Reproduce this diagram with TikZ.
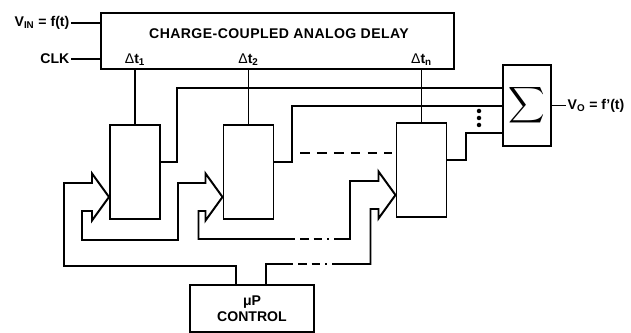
\documentclass[tikz,border=0pt]{standalone}
\usepackage{fontspec}
\setmainfont{Liberation Sans}
\usepackage{graphicx}
\usetikzlibrary{positioning,calc}

\begin{document}
\begin{tikzpicture}[
    x=0.025cm, y=-0.025cm,
    wire/.style={line width=1.4pt, line join=miter},
    block/.style={draw, line width=1.4pt, inner sep=0pt},
    tapbox/.style={block, minimum width=1.25cm, minimum height=2.35cm},
    lbl/.style={font=\fontsize{10}{11}\selectfont\bfseries, inner sep=1pt},
    gapline/.style={wire, dash pattern=on 6pt off 3.5pt on 6pt off 3.5pt on 6pt off 3.5pt on 1.5pt off 3.5pt},
    skipline/.style={wire, dash pattern=on 7pt off 5pt}
  ]
  \useasboundingbox (0,0) rectangle (631,333);

  % Delay line with inputs
  \node[block, minimum width=8.825cm, minimum height=1.4cm] (delay) at (277.5,41) {};
  \node[lbl] (title) at (279,34) {\addfontfeature{LetterSpace=3}CHARGE-COUPLED ANALOG DELAY};
  \node[lbl, anchor=east] (vin) at (71,23) {V\textsubscript{IN} = f(t)};
  \node[lbl, anchor=east] (clk) at (71,59) {CLK};
  \draw[wire] (vin.east) -- (vin.east -| delay.west);
  \draw[wire] (clk.east) -- (clk.east -| delay.west);

  % Tap boxes
  \node[tapbox] (b1) at (135,172) {};
  \node[tapbox] (b2) at (248.5,172) {};
  \node[tapbox] (bn) at (421.5,170) {};

  % Taps and their labels
  \node[lbl, above=2pt] (d1) at (b1.north |- delay.south) {{\mdseries Δ}t\textsubscript{1}};
  \node[lbl, above=2pt] (d2) at (b2.north |- delay.south) {{\mdseries Δ}t\textsubscript{2}};
  \node[lbl, above=2pt] (dn) at (bn.north |- delay.south) {{\mdseries Δ}t\textsubscript{n}};
  \draw[wire] (b1.north) -- (b1.north |- delay.south);
  \draw[wire] (b2.north) -- (b2.north |- delay.south);
  \draw[wire] (bn.north) -- (bn.north |- delay.south);

  % Summer and output
  \node[block, minimum width=1.2cm, minimum height=2.025cm] (sum) at (527,105.5) {\scalebox{1.8}{$\displaystyle\sum$}};
  \node[lbl, right=0.35cm of sum] (vo) {V\textsubscript{O} = f'(t)};
  \draw[wire] (sum) -- (vo);

  % Box outputs into the summer
  \draw[wire] ($(b1.east)+(0,-10)$) -| (177,88) -- (sum.west |- 0,88);
  \draw[wire] ($(b2.east)+(0,-10)$) -| (292,106) -- (sum.west |- 0,106);
  \draw[wire] ($(bn.east)+(0,-10)$) -| (466,133) -- (sum.west |- 0,133);
  \foreach \y in {111,118,125}
    \fill (479,\y) circle (1.6pt);
  \draw[skipline] (300,153) -- (392,153);

  % Control
  \node[block, minimum width=3.1cm, minimum height=1.175cm, align=center, lbl] (ctrl) at (252,308.5) {μP\\CONTROL};
  \coordinate (c1) at ($(ctrl.north)+(-16,0)$);
  \coordinate (c2) at ($(ctrl.north)+(14,0)$);

  % Pointer tips on the boxes
  \coordinate (t1) at ($(b1.west)+(0,25)$);
  \coordinate (t2) at ($(b2.west)+(0,25)$);
  \coordinate (tn) at ($(bn.west)+(0,25)$);

  % Control chain through the pointers
  \draw[wire] (c1) |- (64,266) |- ($(t1)+(-17,-14)$) -- ++(0,-9.5) -- (t1)
    -- ++(-17,23.5) -- ++(0,-9.5) -- ++(-10,0) |- (178,240) |- ($(t2)+(-17,-14)$) -- ++(0,-9.5) -- (t2)
    -- ++(-17,23.5) -- ++(0,-9.5) -- ++(-7,0) |- (287,239) coordinate (g1);
  \draw[gapline] (g1) -- (335,239) coordinate (g2);
  \draw[wire] (g2) -- (350,239) |- ($(tn)+(-17,-14)$) -- ++(0,-9.5) -- (tn)
    -- ++(-17,23.5) -- ++(0,-9.5) -- ++(-8,0) |- (335,264) coordinate (g3);
  \draw[wire] (c2) |- (285,264) coordinate (g4);
  \draw[gapline] (g4) -- (g3);
\end{tikzpicture}
\end{document}
